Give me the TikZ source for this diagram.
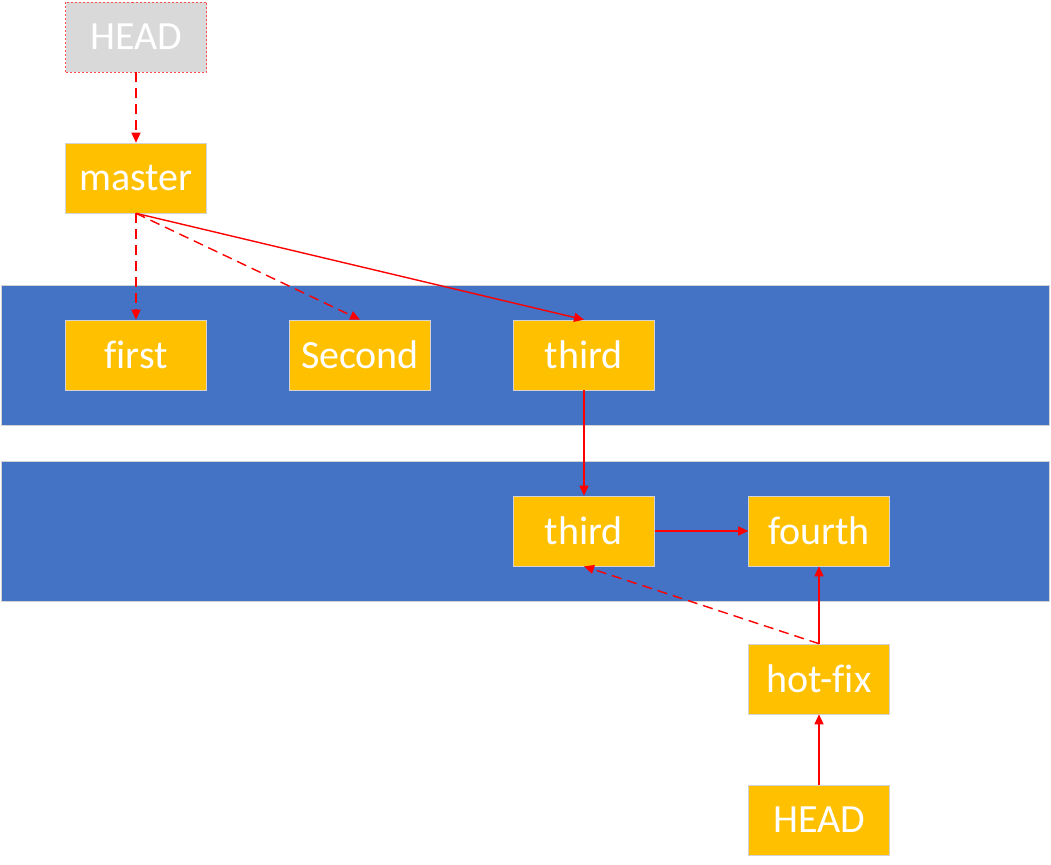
\documentclass[tikz,border=0pt]{standalone}
\usepackage{fontspec}
\setmainfont{Carlito}[Ligatures=NoCommon]
\usepackage[svgnames]{xcolor}
\usetikzlibrary{positioning, arrows.meta, calc}
\definecolor{bandblue}{HTML}{4472C4}
\definecolor{boxorange}{HTML}{FFC000}
\definecolor{headgray}{HTML}{D9D9D9}
\tikzset{
    band/.style={draw=LightGray, fill=bandblue, line width=0.3pt},
    commit/.style={draw=LightGray, fill=boxorange, text=white, line width=0.3pt,
        minimum width=70.5pt, minimum height=35pt, inner sep=0pt,
        font=\fontsize{20}{24}\selectfont},
    headbox/.style={commit, fill=headgray, draw=red!70, dashed, dash pattern=on 1pt off 1pt},
    link/.style={red, line width=0.7pt, -{Triangle[length=5pt, width=4.5pt]}},
    weak/.style={link, dash pattern=on 5pt off 3pt}
}
\begin{document}
\begin{tikzpicture}[x=0.5pt, y=-0.5pt]
    \useasboundingbox (0,0) rectangle (1051,864);

    % branches
    \draw[band] (1,285) rectangle (1049,425);
    \draw[band] (1,461) rectangle (1049,601);

    % commits
    \foreach \name/\x/\y/\label in {
        master/136/178/master,
        first/136/355/first,
        second/360/355/Second,
        thirda/584/355/third,
        thirdb/584/531/third,
        fourth/819/531/fourth,
        hotfix/819/679/hot-fix,
        headbot/819/820/HEAD}
    {
        \node[commit] (\name) at (\x,\y) {\label};
    }
    \node[headbox] (headtop) at (136,37) {HEAD};

    % pointers
    \draw[weak] (headtop.south) -- (master.north);
    \draw[weak] (master.south) -- (first.north);
    \draw[weak] (master.south) -- (second.north);
    \draw[link] (master.south) -- (thirda.north);
    \draw[link] (thirda.south) -- (thirdb.north);
    \draw[link] (thirdb.east) -- (fourth.west);
    \draw[link] (hotfix.north) -- (fourth.south);
    \draw[weak] (hotfix.north) -- (thirdb.south);
    \draw[link] (headbot.north) -- (hotfix.south);
\end{tikzpicture}
\end{document}
